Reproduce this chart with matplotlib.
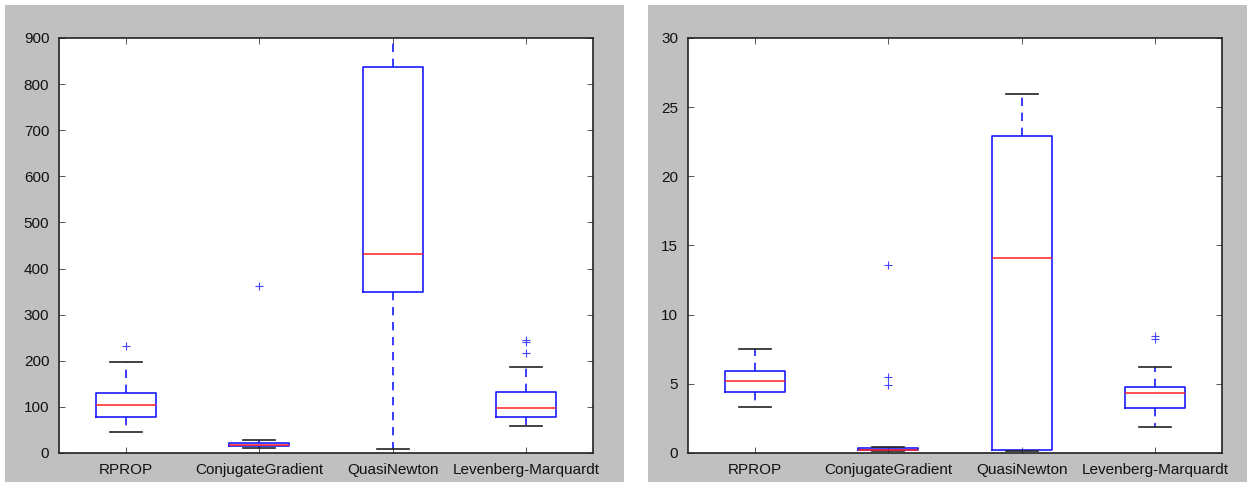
import matplotlib as mpl
mpl.use('Agg')
import matplotlib.pyplot as plt
from matplotlib.patches import Rectangle

plt.rcParams['font.family'] = ['Liberation Sans', 'DejaVu Sans']

methods = ['RPROP', 'ConjugateGradient', 'QuasiNewton', 'Levenberg-Marquardt']

# left panel: (whislo, q1, med, q3, whishi)
left_stats = [
    (45, 79, 103, 131, 197),
    (11, 14.5, 16.5, 21, 28),
    (9, 349, 431, 838, 1100),
    (58, 79, 98.5, 133, 187),
]
left_fliers = [[233], [362], [], [216, 241, 246]]

# right panel
right_stats = [
    (3.3, 4.38, 5.18, 5.95, 7.5),
    (0.15, 0.2, 0.25, 0.34, 0.4),
    (0.15, 0.24, 14.08, 22.93, 25.96),
    (1.9, 3.22, 4.31, 4.75, 6.25),
]
right_fliers = [[], [4.95, 5.52, 13.56], [], [8.26, 8.43]]


def make_stats(stats, fliers):
    out = []
    for name, (lo, q1, med, q3, hi), fl in zip(methods, stats, fliers):
        out.append(dict(label=name, whislo=lo, q1=q1, med=med, q3=q3,
                        whishi=hi, fliers=fl))
    return out


def draw(ax, stats, fliers, ymax, step):
    ax.bxp(make_stats(stats, fliers), widths=0.45, capwidths=0.24,
           boxprops=dict(color='#1a1aff', linewidth=1.2),
           medianprops=dict(color='#ff2020', linewidth=1.1),
           whiskerprops=dict(color='#1a1aff', linewidth=1.2,
                             linestyle=(0, (5, 4))),
           capprops=dict(color='#222222', linewidth=1.2),
           flierprops=dict(marker='+', markeredgecolor='#4444ff',
                           markersize=5.5, markeredgewidth=0.8))
    ax.set_xlim(0.5, 4.5)
    ax.set_ylim(0, ymax)
    ax.set_yticks(range(0, ymax + 1, step))
    ax.tick_params(direction='in', top=True, right=True, length=4,
                   width=0.7, color='#555555', labelsize=11, pad=7,
                   labelcolor='#111111')
    for s in ax.spines.values():
        s.set_linewidth(1.2)
        s.set_color('#222222')


fig = plt.figure(figsize=(12.47, 4.82), dpi=100, facecolor='white')
# gray panels behind each axes
fig.patches.append(Rectangle((0.004, 0), 0.4964, 0.9896, transform=fig.transFigure,
                             facecolor='#c0c0c0', edgecolor='none', zorder=-5))
fig.patches.append(Rectangle((0.5196, 0), 0.4804, 0.9896, transform=fig.transFigure,
                             facecolor='#c0c0c0', edgecolor='none', zorder=-5))

ax1 = fig.add_axes([0.0473, 0.0602, 0.4282, 0.861])
ax2 = fig.add_axes([0.5517, 0.0602, 0.4282, 0.861])

draw(ax1, left_stats, left_fliers, 900, 100)
draw(ax2, right_stats, right_fliers, 30, 5)

fig.savefig('out.png', dpi=100, facecolor=fig.get_facecolor())
